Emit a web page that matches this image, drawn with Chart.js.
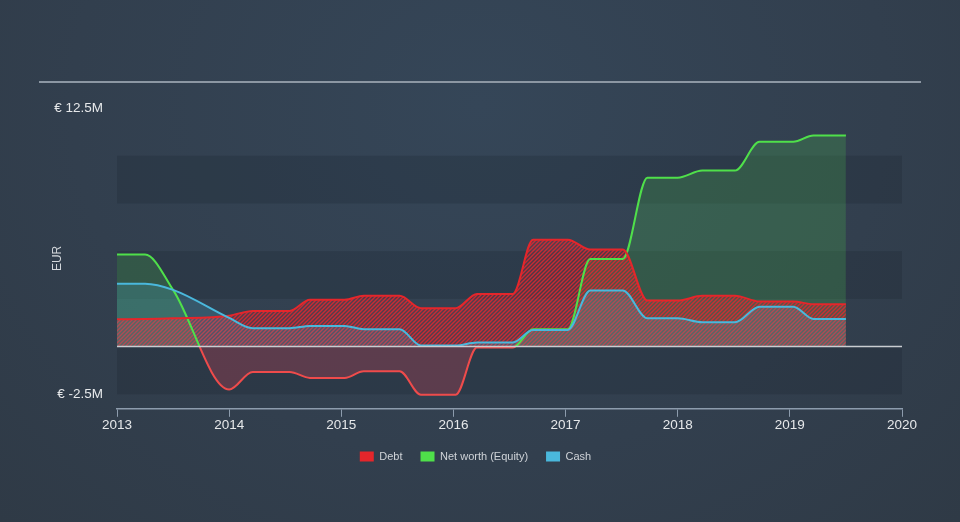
<!DOCTYPE html>
<html>
<head>
<meta charset="utf-8">
<script src="https://cdn.jsdelivr.net/npm/chart.js@4.4.1/dist/chart.umd.min.js"></script>
<style>
  html, body { margin: 0; padding: 0; }
  body {
    width: 960px; height: 522px; overflow: hidden;
    background: radial-gradient(ellipse at 50% 20%, #354658 0%, #323f4e 60%, #2f3a46 100%);
  }
  #wrap { position: relative; width: 960px; height: 522px; }
  #chart { position: absolute; left: 0; top: 0; }
  #topline { position: absolute; left: 39px; top: 81px; width: 882px; height: 2px; background: #8c97a3; }
</style>
</head>
<body>
<div id="wrap">
  <canvas id="chart" width="960" height="522"></canvas>
  <div id="topline"></div>
</div>
<script>
"use strict";

// dates as decimal years
const years = [2013.0, 2013.25, 2013.5, 2014.0, 2014.21, 2014.54, 2014.72, 2015.03, 2015.2, 2015.52, 2015.71, 2016.02, 2016.21,
               2016.53, 2016.71, 2017.02, 2017.22, 2017.51, 2017.73, 2018.0, 2018.22, 2018.51, 2018.73, 2019.03, 2019.21, 2019.5];

// values in € millions
const debt   = [1.43, 1.44, 1.48, 1.62, 1.87, 1.87, 2.45, 2.45, 2.66, 2.66, 2.01, 2.01, 2.76,
                2.76, 5.6, 5.6, 5.08, 5.08, 2.41, 2.41, 2.66, 2.66, 2.36, 2.36, 2.22, 2.22];
const equity = [4.82, 4.82, 2.97, -2.25, -1.33, -1.33, -1.64, -1.64, -1.29, -1.29, -2.52, -2.52, -0.05,
                -0.05, 0.91, 0.91, 4.59, 4.59, 8.85, 8.85, 9.22, 9.22, 10.73, 10.73, 11.06, 11.06];
const cash   = [3.29, 3.29, 2.97, 1.5, 0.96, 0.96, 1.08, 1.08, 0.91, 0.91, 0.06, 0.06, 0.22,
                0.22, 0.87, 0.87, 2.94, 2.94, 1.48, 1.48, 1.27, 1.27, 2.09, 2.09, 1.45, 1.45];

const seriesNames = ["Debt", "Net worth (Equity)", "Cash"];
const xTicks = [2013, 2014, 2015, 2016, 2017, 2018, 2019, 2020];
const yTicks = [-2.5, 12.5];
const bands = [[-2.5, 0], [2.5, 5], [7.5, 10]];

const red = '#e5262b';
const redNeg = '#ef4b4b';
const green = '#4fe04a';
const blue = '#4ab8dc';
const legendColors = [red, green, blue];

function makeHatch(lineColor, fillColor) {
    const size = 4;
    const c = document.createElement('canvas');
    c.width = size;
    c.height = size;
    const g = c.getContext('2d');
    g.fillStyle = fillColor;
    g.fillRect(0, 0, size, size);
    g.strokeStyle = lineColor;
    g.lineWidth = 1.4;
    g.beginPath();
    g.moveTo(0, size); g.lineTo(size, 0);
    g.moveTo(-1, 1); g.lineTo(1, -1);
    g.moveTo(size - 1, size + 1); g.lineTo(size + 1, size - 1);
    g.stroke();
    return g.createPattern(c, 'repeat');
}

// green above zero, red below
function equityLine(ctx) {
    const chart = ctx.chart;
    const area = chart.chartArea;
    if (!area) return green;
    const y0 = chart.scales.y.getPixelForValue(0);
    const f = Math.min(1, Math.max(0, (y0 - area.top) / (area.bottom - area.top)));
    const g = chart.ctx.createLinearGradient(0, area.top, 0, area.bottom);
    g.addColorStop(0, green);
    g.addColorStop(f, green);
    g.addColorStop(f, redNeg);
    g.addColorStop(1, redNeg);
    return g;
}

const bandPlugin = {
    id: 'bands',
    beforeDraw(chart) {
        const { ctx, chartArea, scales: { y } } = chart;
        ctx.save();
        ctx.fillStyle = 'rgba(20,28,40,0.2)';
        bands.forEach(([lo, hi]) => {
            const top = y.getPixelForValue(hi);
            const bot = y.getPixelForValue(lo);
            ctx.fillRect(chartArea.left, top, chartArea.right - chartArea.left, bot - top);
        });
        ctx.restore();
    },
    afterDatasetsDraw(chart) {
        const { ctx, chartArea, scales: { y } } = chart;
        const y0 = y.getPixelForValue(0);
        ctx.save();
        ctx.strokeStyle = '#c9cdd1';
        ctx.lineWidth = 1.5;
        ctx.beginPath();
        ctx.moveTo(chartArea.left, y0);
        ctx.lineTo(chartArea.right, y0);
        ctx.stroke();
        ctx.restore();
    }
};

function points(values) {
    return values.map((v, i) => ({ x: years[i], y: v }));
}

Chart.defaults.font.family = "'Liberation Sans', Arial, sans-serif";

new Chart(document.getElementById('chart'), {
    type: 'line',
    data: {
        datasets: [{
            label: seriesNames[0],
            data: points(debt),
            borderColor: red,
            backgroundColor: makeHatch('rgba(232,40,48,0.8)', 'rgba(232,40,48,0.18)'),
            fill: 'origin',
            order: 1
        }, {
            label: seriesNames[1],
            data: points(equity),
            borderColor: equityLine,
            backgroundColor: 'rgba(76,200,76,0.22)',
            fill: { target: 'origin', above: 'rgba(76,200,76,0.22)', below: 'rgba(235,70,90,0.25)' },
            order: 2
        }, {
            label: seriesNames[2],
            data: points(cash),
            borderColor: blue,
            backgroundColor: 'rgba(74,184,220,0.2)',
            fill: 'origin',
            order: 0
        }]
    },
    options: {
        responsive: false,
        animation: false,
        layout: { padding: { top: 108, right: 58, bottom: 50, left: 49 } },
        elements: {
            line: { borderWidth: 2, cubicInterpolationMode: 'monotone' },
            point: { radius: 0, hoverRadius: 0 }
        },
        scales: {
            x: {
                type: 'linear',
                min: 2013,
                max: 2020,
                afterBuildTicks: s => { s.ticks = xTicks.map(v => ({ value: v })); },
                ticks: { color: '#e6e8ea', font: { size: 13.5 }, padding: 0, maxRotation: 0, callback: v => String(v) },
                grid: { display: true, drawOnChartArea: false, drawTicks: true, tickLength: 8, color: '#8d9cad', lineWidth: 1 },
                border: { display: true, color: '#8d9cad', width: 1.5 }
            },
            y: {
                min: -3.26,
                max: 12.5,
                afterBuildTicks: s => { s.ticks = yTicks.map(v => ({ value: v })); },
                afterFit: s => { s.width = 68; },
                ticks: { color: '#e6e8ea', font: { size: 13.5 }, padding: 14, callback: v => '€ ' + v + 'M' },
                grid: { display: false, drawTicks: false },
                border: { display: false },
                title: { display: true, text: 'EUR', color: '#d4d8dc', font: { size: 12 }, padding: { top: 1 } }
            }
        },
        plugins: {
            filler: { drawTime: 'beforeDatasetsDraw' },
            tooltip: { enabled: false },
            legend: {
                position: 'bottom',
                labels: {
                    boxWidth: 14,
                    boxHeight: 10,
                    padding: 18,
                    color: '#cfd3d8',
                    font: { size: 11 },
                    generateLabels: chart => chart.data.datasets.map((ds, i) => ({
                        text: ds.label,
                        fillStyle: legendColors[i],
                        strokeStyle: legendColors[i],
                        lineWidth: 0,
                        hidden: false,
                        datasetIndex: i,
                        fontColor: '#cfd3d8'
                    }))
                }
            }
        }
    },
    plugins: [bandPlugin]
});
</script>
</body>
</html>
